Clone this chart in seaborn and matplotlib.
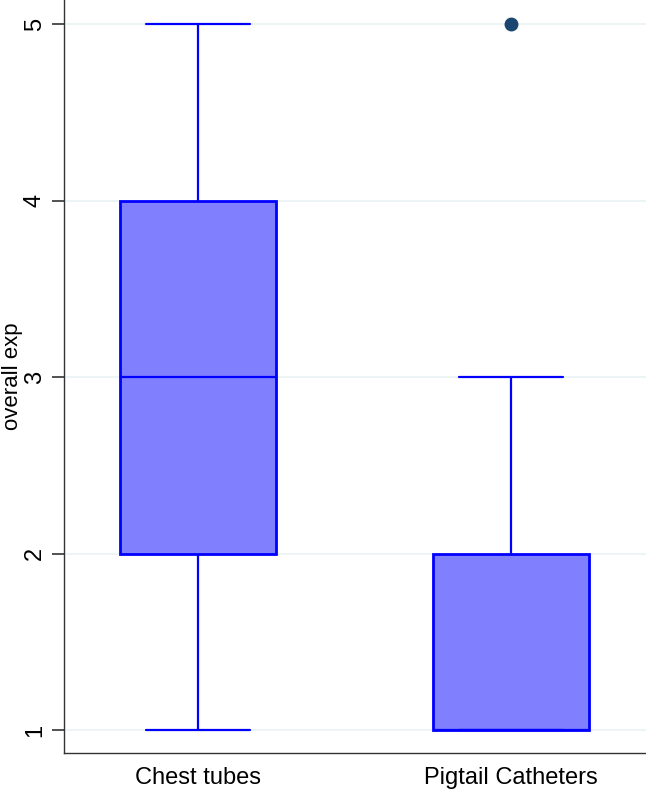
import matplotlib

matplotlib.use("Agg")
import matplotlib.pyplot as plt
import pandas as pd
import seaborn as sns

# raw responses per group (chosen to reproduce the box statistics)
chest_tubes = [1, 2, 2, 3, 3, 3, 4, 4, 5]
pigtail = [1, 1, 1, 1, 1, 2, 2, 3, 5]
groups = ["Chest tubes", "Pigtail Catheters"]
yticks = [1, 2, 3, 4, 5]

df = pd.DataFrame({
    "group": [groups[0]] * len(chest_tubes) + [groups[1]] * len(pigtail),
    "overall exp": chest_tubes + pigtail,
})

sns.set_style("white")
plt.rcParams["font.family"] = ["Liberation Sans", "DejaVu Sans"]

fig = plt.figure(figsize=(6.46, 7.91), dpi=100)
ax = fig.add_axes([64 / 646, 38 / 791, 1 - 64 / 646, 1 - 38 / 791])

edge = "#0000ff"
sns.boxplot(
    data=df, x="group", y="overall exp", order=groups, ax=ax,
    width=0.5, color="#8080ff", saturation=1, linewidth=2, linecolor=edge,
    whis=1.5, capwidths=0.33,
    boxprops=dict(facecolor="#8080ff", edgecolor=edge),
    whiskerprops=dict(color=edge, linewidth=1.6), capprops=dict(color=edge, linewidth=1.6),
    medianprops=dict(color=edge, linewidth=1.6),
    flierprops=dict(marker="o", markerfacecolor="#1a476f", markeredgecolor="#1a476f",
                    markersize=9),
)

ax.set_ylim(1 - 23 / 176.5, 5 + 24 / 176.5)
ax.set_xlim(-0.428, 1.431)
ax.set_yticks(yticks)
ax.set_yticklabels([str(t) for t in yticks], rotation=90, va="center", fontsize=17,
                   color="black")
ax.tick_params(axis="y", left=True, direction="out", length=9, width=1.2,
               color="#333333", pad=4)
ax.tick_params(axis="x", length=0, labelsize=17, labelcolor="black", pad=10)
ax.yaxis.grid(True, color="#eaf2f3", linewidth=1.2)
ax.set_axisbelow(True)
ax.set_xlabel("")
ax.set_ylabel("overall exp", fontsize=16, color="black")
ax.yaxis.set_label_coords(-0.07, 0.5)
for s in ["top", "right"]:
    ax.spines[s].set_visible(False)
for s in ["left", "bottom"]:
    ax.spines[s].set_color("#333333")
    ax.spines[s].set_linewidth(1)

fig.savefig("out.png", dpi=100)
